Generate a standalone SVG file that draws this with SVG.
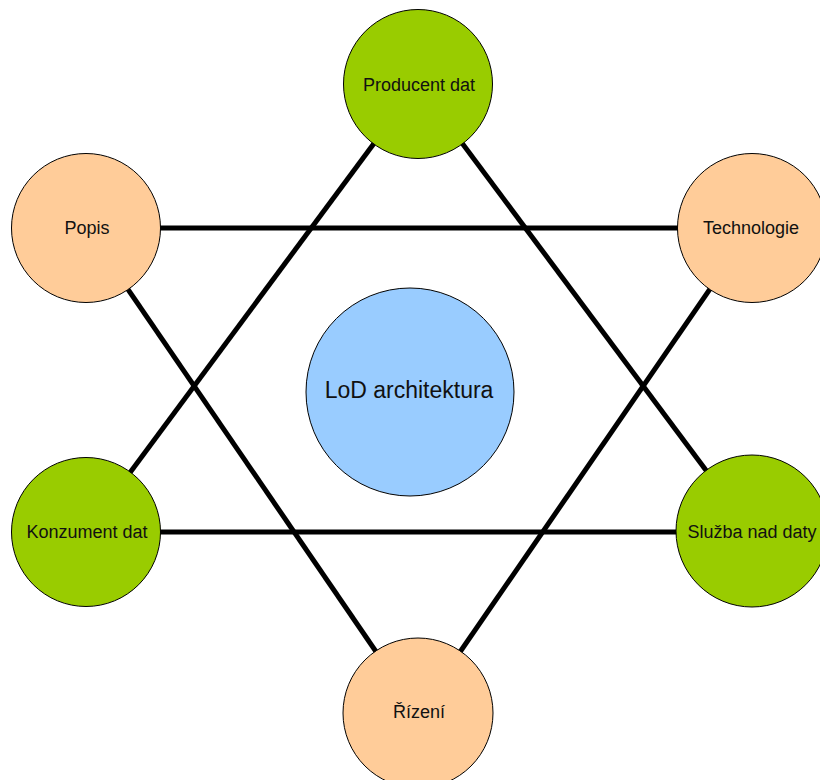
<svg xmlns="http://www.w3.org/2000/svg" width="820" height="780" viewBox="0 0 820 780">
  <style>
    .link { stroke: #000; stroke-width: 5; fill: none; }
    .node { stroke: #000; stroke-width: 1; }
    .green { fill: #99cc00; }
    .orange { fill: #ffcc99; }
    .blue { fill: #99ccff; }
    .label { font-family: "Liberation Sans", Arial, sans-serif; font-size: 18px; fill: #111; text-anchor: middle; }
    .center-label { font-size: 23px; }
  </style>
  <rect width="820" height="780" fill="#fff"/>

  <!-- connectors: two crossing triangles -->
  <g id="connectors">
    <line class="link" x1="418" y1="84" x2="86" y2="532"/>
    <line class="link" x1="418" y1="84" x2="752" y2="532"/>
    <line class="link" x1="86" y1="532" x2="752" y2="532"/>
    <line class="link" x1="86" y1="228" x2="752" y2="228"/>
    <line class="link" x1="86" y1="228" x2="418" y2="713"/>
    <line class="link" x1="752" y1="228" x2="418" y2="713"/>
  </g>

  <g id="lod-architektura">
    <circle class="node blue" cx="410" cy="392" r="104"/>
    <text class="label center-label" x="409" y="398">LoD architektura</text>
  </g>

  <g id="producent-dat">
    <circle class="node green" cx="418" cy="84" r="74.5"/>
    <text class="label" x="419" y="91">Producent dat</text>
  </g>

  <g id="popis">
    <circle class="node orange" cx="86" cy="228" r="74.5"/>
    <text class="label" x="87" y="234">Popis</text>
  </g>

  <g id="technologie">
    <circle class="node orange" cx="752" cy="228" r="74.5"/>
    <text class="label" x="751" y="234">Technologie</text>
  </g>

  <g id="konzument-dat">
    <circle class="node green" cx="86" cy="532" r="74.5"/>
    <text class="label" x="87" y="538">Konzument dat</text>
  </g>

  <g id="sluzba-nad-daty">
    <circle class="node green" cx="752" cy="531" r="76"/>
    <text class="label" x="752" y="538">Služba nad daty</text>
  </g>

  <g id="rizeni">
    <circle class="node orange" cx="418" cy="713" r="75"/>
    <text class="label" x="419" y="718">Řízení</text>
  </g>
</svg>
